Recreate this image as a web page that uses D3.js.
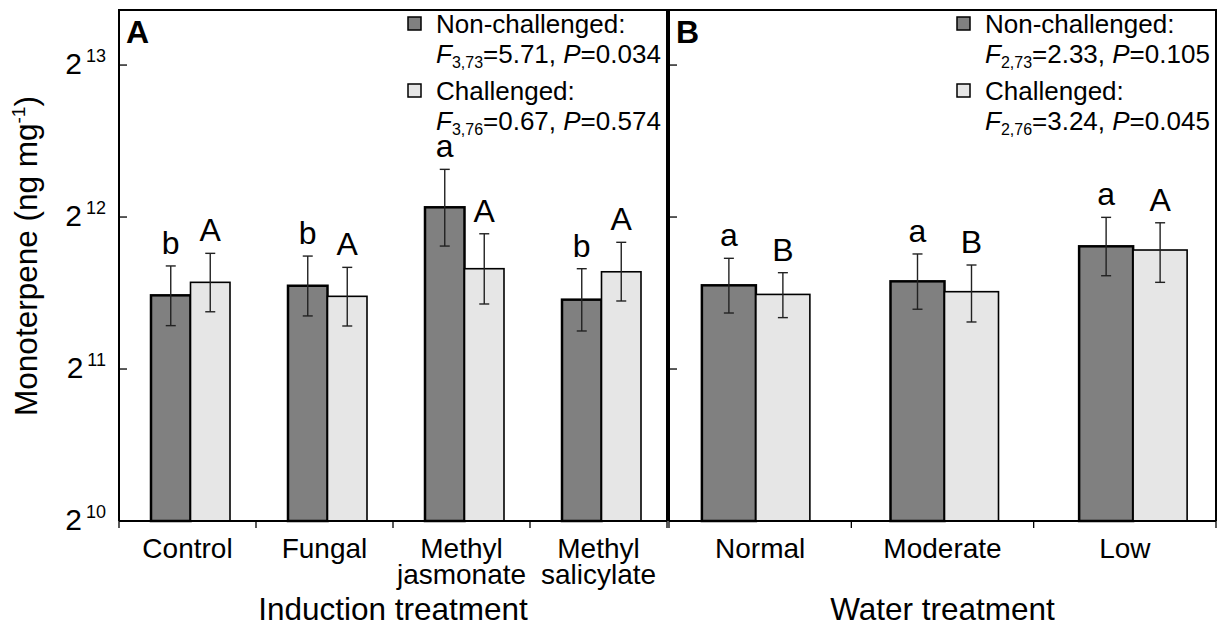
<!DOCTYPE html>
<html>
<head>
<meta charset="utf-8">
<script src="https://cdn.jsdelivr.net/npm/d3@7/dist/d3.min.js"></script>
<style>
  body { margin: 0; background: #fff; }
  svg { display: block; font-family: 'Liberation Sans', Arial, sans-serif; }
</style>
</head>
<body>
<div id="chart"></div>
<script>
const width = 1227,
	height = 626

// Panel A: induction treatment
const induction = ['Control', 'Fungal', 'Methyl jasmonate', 'Methyl salicylate']
const indNonMean = [2866, 2994, 4282, 2810]
const indNonLo = [2496, 2609, 3588, 2436]
const indNonHi = [3277, 3428, 5091, 3236]
const indChalMean = [3041, 2853, 3236, 3191]
const indChalLo = [2659, 2492, 2755, 2793]
const indChalHi = [3471, 3256, 3795, 3650]
const indNonLetters = ['b', 'b', 'a', 'b']
const indChalLetters = ['A', 'A', 'A', 'A']
const indDf = ['3,73', '3,76']
const indF = ['5.71', '0.67']
const indP = ['0.034', '0.574']

// Panel B: water treatment
const water = ['Normal', 'Moderate', 'Low']
const watNonMean = [3000, 3055, 3584]
const watNonLo = [2644, 2690, 3134]
const watNonHi = [3393, 3461, 4090]
const watChalMean = [2878, 2914, 3524]
const watChalLo = [2589, 2538, 3041]
const watChalHi = [3178, 3291, 3990]
const watNonLetters = ['a', 'a', 'a']
const watChalLetters = ['B', 'B', 'A']
const watDf = ['2,73', '2,76']
const watF = ['2.33', '3.24']
const watP = ['0.105', '0.045']

const seriesNames = ['Non-challenged:', 'Challenged:']
const seriesColors = ['#808080', '#e6e6e6']
const yExponents = [10, 11, 12, 13]

const plotTop = 10,
	plotBottom = 521

const svg = d3
	.select('#chart')
	.append('svg')
	.attr('width', width)
	.attr('height', height)

const y = d3
	.scaleLog()
	.base(2)
	.domain([1024, 10530])
	.range([plotBottom, plotTop])

function drawPanel(p) {
	const g = svg.append('g')

	// category bands (axis ticks) and bar centres
	const xBand = d3.scaleBand().domain(p.cats).range([p.x0, p.x1])
	const xBar = d3
		.scalePoint()
		.domain(p.cats)
		.range([p.x0 + p.shift, p.x1 + p.shift])
		.padding(p.pad)
	const bw = p.barWidth

	const series = [
		{ mean: p.nonMean, lo: p.nonLo, hi: p.nonHi, letters: p.nonLetters, off: -bw, sw: 2.5 },
		{ mean: p.chalMean, lo: p.chalLo, hi: p.chalHi, letters: p.chalLetters, off: 0, sw: 1.6 },
	]

	series.forEach((s, si) => {
		const rows = p.cats.map((c, i) => ({
			c,
			mean: s.mean[i],
			lo: s.lo[i],
			hi: s.hi[i],
			letter: s.letters[i],
		}))

		g.selectAll(null)
			.data(rows)
			.enter()
			.append('rect')
			.attr('x', d => xBar(d.c) + s.off)
			.attr('y', d => y(d.mean))
			.attr('width', bw)
			.attr('height', d => plotBottom - y(d.mean))
			.attr('fill', seriesColors[si])
			.attr('stroke', '#000')
			.attr('stroke-width', s.sw)

		// error bars
		const eb = g
			.selectAll(null)
			.data(rows)
			.enter()
			.append('g')
			.attr('stroke', '#222')
			.attr('stroke-width', 1.4)
		eb.append('line')
			.attr('x1', d => xBar(d.c) + s.off + bw / 2)
			.attr('x2', d => xBar(d.c) + s.off + bw / 2)
			.attr('y1', d => y(d.hi))
			.attr('y2', d => y(d.lo))
		eb.append('line')
			.attr('x1', d => xBar(d.c) + s.off + bw / 2 - 5)
			.attr('x2', d => xBar(d.c) + s.off + bw / 2 + 5)
			.attr('y1', d => y(d.hi))
			.attr('y2', d => y(d.hi))
		eb.append('line')
			.attr('x1', d => xBar(d.c) + s.off + bw / 2 - 5)
			.attr('x2', d => xBar(d.c) + s.off + bw / 2 + 5)
			.attr('y1', d => y(d.lo))
			.attr('y2', d => y(d.lo))

		// significance letters
		g.selectAll(null)
			.data(rows)
			.enter()
			.append('text')
			.attr('x', d => xBar(d.c) + s.off + bw / 2)
			.attr('y', d => y(d.hi) - 12)
			.attr('text-anchor', 'middle')
			.style('font-size', '32px')
			.text(d => d.letter)
	})

	// frame
	g.append('path')
		.attr('d', `M${p.x0},${plotBottom}V${plotTop}H${p.x1}V${plotBottom}`)
		.attr('fill', 'none')
		.attr('stroke', '#000')
		.attr('stroke-width', 2)

	// x axis
	g.append('line')
		.attr('x1', p.x0)
		.attr('x2', p.x1)
		.attr('y1', plotBottom)
		.attr('y2', plotBottom)
		.attr('stroke', '#000')
		.attr('stroke-width', 2)
	const bounds = p.cats.map(c => xBand(c)).concat([p.x1])
	g.selectAll(null)
		.data(bounds)
		.enter()
		.append('line')
		.attr('x1', d => d)
		.attr('x2', d => d)
		.attr('y1', plotBottom)
		.attr('y2', plotBottom + 7)
		.attr('stroke', '#000')
		.attr('stroke-width', 1.3)

	const labels = g
		.selectAll(null)
		.data(p.cats)
		.enter()
		.append('text')
		.attr('text-anchor', 'middle')
		.style('font-size', '28px')
	labels.each(function (c) {
		const t = d3.select(this)
		c.split(' ').forEach((w, i) => {
			t.append('tspan')
				.attr('x', xBand(c) + xBand.bandwidth() / 2)
				.attr('y', 558 + i * 26)
				.text(w)
		})
	})

	g.append('text')
		.attr('x', (p.x0 + p.x1) / 2)
		.attr('y', 620)
		.attr('text-anchor', 'middle')
		.style('font-size', '31.5px')
		.text(p.title)

	// inward y ticks
	g.selectAll(null)
		.data(yExponents)
		.enter()
		.append('line')
		.attr('x1', p.x0)
		.attr('x2', p.x0 + 8)
		.attr('y1', d => y(2 ** d))
		.attr('y2', d => y(2 ** d))
		.attr('stroke', '#000')
		.attr('stroke-width', 1.3)

	// panel letter
	g.append('text')
		.attr('x', p.x0 + 7)
		.attr('y', 43)
		.style('font-size', '32px')
		.style('font-weight', 'bold')
		.text(p.panel)

	// legend
	const lx = p.x1 - 231
	seriesNames.forEach((name, i) => {
		const by = 33 + i * 67
		g.append('rect')
			.attr('x', lx - 28)
			.attr('y', by - 16)
			.attr('width', 13)
			.attr('height', 13)
			.attr('fill', seriesColors[i])
			.attr('stroke', '#000')
			.attr('stroke-width', 1.5)
		g.append('text')
			.attr('x', lx)
			.attr('y', by)
			.style('font-size', '26px')
			.text(name)
		const st = g
			.append('text')
			.attr('x', lx)
			.attr('y', by + 30)
			.style('font-size', '26px')
		st.append('tspan').style('font-style', 'italic').text('F')
		st.append('tspan').attr('dy', 5).style('font-size', '16px').text(p.df[i])
		st.append('tspan').attr('dy', -5).text('=' + p.F[i] + ', ')
		st.append('tspan').style('font-style', 'italic').text('P')
		st.append('tspan').text('=' + p.P[i])
	})
}

drawPanel({
	cats: induction,
	x0: 119,
	x1: 667,
	shift: 3,
	pad: 0.5,
	barWidth: 39.5,
	nonMean: indNonMean,
	nonLo: indNonLo,
	nonHi: indNonHi,
	chalMean: indChalMean,
	chalLo: indChalLo,
	chalHi: indChalHi,
	nonLetters: indNonLetters,
	chalLetters: indChalLetters,
	df: indDf,
	F: indF,
	P: indP,
	title: 'Induction treatment',
	panel: 'A',
})

drawPanel({
	cats: water,
	x0: 669,
	x1: 1216,
	shift: 2,
	pad: 0.45,
	barWidth: 54,
	nonMean: watNonMean,
	nonLo: watNonLo,
	nonHi: watNonHi,
	chalMean: watChalMean,
	chalLo: watChalLo,
	chalHi: watChalHi,
	nonLetters: watNonLetters,
	chalLetters: watChalLetters,
	df: watDf,
	F: watF,
	P: watP,
	title: 'Water treatment',
	panel: 'B',
})

// y tick labels (powers of two)
const yLabels = svg
	.selectAll(null)
	.data(yExponents)
	.enter()
	.append('text')
	.attr('x', 106)
	.attr('y', d => y(2 ** d) + 9)
	.attr('text-anchor', 'end')
	.style('font-size', '30px')
yLabels.append('tspan').text('2')
yLabels
	.append('tspan')
	.attr('dy', -12)
	.attr('dx', 4)
	.style('font-size', '18px')
	.text(d => d)

// y axis title
const yTitle = svg
	.append('text')
	.attr('transform', 'translate(37,256) rotate(-90)')
	.attr('text-anchor', 'middle')
	.style('font-size', '31.5px')
yTitle.append('tspan').text('Monoterpene (ng mg')
yTitle.append('tspan').attr('dy', -12).style('font-size', '19px').text('-1')
yTitle.append('tspan').attr('dy', 12).text(')')
</script>
</body>
</html>
